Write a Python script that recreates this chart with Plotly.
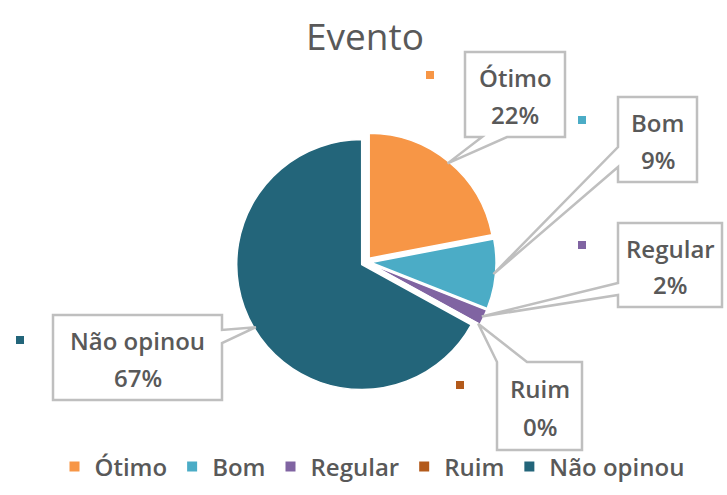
import math
import plotly.graph_objects as go

# Survey results for "Evento"
labels = ["Ótimo", "Bom", "Regular", "Ruim", "Não opinou"]
values = [22, 9, 2, 0, 67]
colors = ["#F79646", "#4BACC6", "#8064A2", "#B35A1B", "#23657A"]
title_text = "Evento"

W, H = 727, 495
TEXT = "#595959"
BORDER = "#BFBFBF"
FONT = "Open Sans"

# pie geometry in pixels
CX, CY, R = 366, 262, 125
PULL = 0.04


def px(x):
    return x / W


def py(y):
    return 1 - y / H


half = R * (1 + PULL)

fig = go.Figure(
    go.Pie(
        labels=labels,
        values=values,
        marker=dict(colors=colors, line=dict(color="white", width=1.5)),
        sort=False,
        direction="clockwise",
        rotation=0,
        pull=PULL,
        textinfo="none",
        hoverinfo="label+percent",
        domain=dict(x=[px(CX - half), px(CX + half)], y=[py(CY + half), py(CY - half)]),
    )
)

# callout boxes: box (x0, y0, x1, y1), side carrying the pointer, pointer base, key square
callouts = {
    "Ótimo": dict(box=(465, 52, 565, 137), side="bottom", base=(482, 507), key=(430, 75)),
    "Bom": dict(box=(618, 97, 697, 182), side="left", base=(147, 167), key=(582, 120)),
    "Regular": dict(box=(618, 223, 722, 307), side="left", base=(283, 295), key=(582, 245)),
    "Ruim": dict(box=(497, 362, 582, 450), side="top", base=(497, 527), key=(460, 385)),
    "Não opinou": dict(box=(53, 315, 222, 400), side="right", base=(330, 343), key=(20, 340)),
}

label_font = dict(family=FONT, size=24, color=TEXT, weight=600)

total = sum(values)
start = 0.0
shapes = []
annotations = []
for lab, val, col in zip(labels, values, colors):
    span = 360.0 * val / total
    mid = math.radians(start + span / 2)
    start += span
    dist = R * (1 + PULL) - 2
    tip = (CX + dist * math.sin(mid), CY - dist * math.cos(mid))

    c = callouts[lab]
    x0, y0, x1, y1 = c["box"]
    b0, b1 = c["base"]
    side = c["side"]
    if side == "bottom":
        pts = [(x0, y0), (x1, y0), (x1, y1), (b1, y1), tip, (b0, y1), (x0, y1)]
    elif side == "left":
        pts = [(x0, y0), (x1, y0), (x1, y1), (x0, y1), (x0, b1), tip, (x0, b0)]
    elif side == "top":
        pts = [(x0, y0), (b0, y0), tip, (b1, y0), (x1, y0), (x1, y1), (x0, y1)]
    else:
        pts = [(x0, y0), (x1, y0), (x1, b0), tip, (x1, b1), (x1, y1), (x0, y1)]
    path = "M " + " L ".join(f"{px(a):.5f},{py(b):.5f}" for a, b in pts) + " Z"
    shapes.append(dict(type="path", xref="paper", yref="paper", path=path,
                       fillcolor="white", line=dict(color=BORDER, width=2.5)))

    kx, ky = c["key"]
    shapes.append(dict(type="rect", xref="paper", yref="paper",
                       x0=px(kx - 4), x1=px(kx + 4), y0=py(ky + 4), y1=py(ky - 4),
                       fillcolor=col, line=dict(width=0)))

    bx = (x0 + x1) / 2
    bh = y1 - y0
    annotations.append(dict(x=px(bx), y=py(y0 + 0.30 * bh), xref="paper", yref="paper",
                            text=lab, showarrow=False, xanchor="center", yanchor="middle",
                            font=label_font))
    annotations.append(dict(x=px(bx), y=py(y0 + 0.73 * bh), xref="paper", yref="paper",
                            text=f"{val / total * 100:.0f}%", showarrow=False,
                            xanchor="center", yanchor="middle", font=label_font))

fig.update_layout(
    width=W,
    height=H,
    margin=dict(l=0, r=0, t=0, b=0),
    paper_bgcolor="white",
    plot_bgcolor="white",
    title=dict(text=title_text, x=px(365), xanchor="center", y=py(37), yanchor="middle",
               font=dict(family=FONT, size=37, color=TEXT)),
    showlegend=True,
    legend=dict(orientation="h", x=px(372), xanchor="center", y=py(467), yanchor="middle",
                font=dict(family=FONT, size=24, color=TEXT, weight=600),
                bgcolor="rgba(0,0,0,0)", itemsizing="constant", traceorder="normal"),
    shapes=shapes,
    annotations=annotations,
)

fig.write_html("out.html")
